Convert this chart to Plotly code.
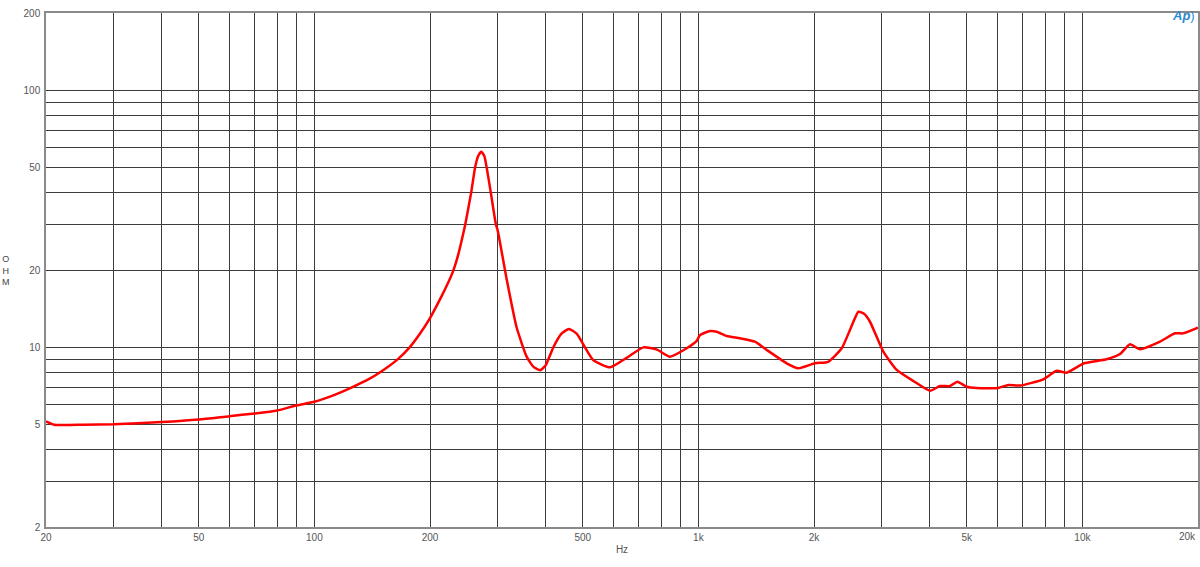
import plotly.graph_objects as go

# Impedance curve data (Hz, Ohm)
freq = [20, 21, 25, 30, 40, 50, 60, 70, 80, 90, 100, 112, 124, 137, 151, 165, 177, 189,
        200, 212, 222, 230, 237, 242, 247, 256, 262, 267, 272, 277, 281, 288, 297, 300,
        317, 336, 357, 372, 387, 400, 419, 440, 460, 482, 532, 589, 650, 719, 780, 843,
        932, 990, 1010, 1072, 1116, 1185, 1283, 1404, 1506, 1698, 1820, 2012, 2178, 2362,
        2500, 2610, 2700, 2798, 3031, 3285, 3627, 4010, 4258, 4522, 4724, 4998, 5306,
        6040, 6412, 6880, 7910, 8570, 9100, 10098, 11566, 12528, 13304, 14126, 15925,
        17420, 18312, 20000]
ohm = [5.15, 5.0, 5.0, 5.02, 5.12, 5.24, 5.4, 5.53, 5.68, 5.95, 6.14, 6.5, 6.94, 7.45,
       8.15, 9.0, 10.0, 11.4, 13.0, 15.3, 17.6, 19.9, 23.0, 26.2, 30.0, 40.0, 50.0, 55.5,
       57.7, 55.5, 50.0, 40.0, 30.0, 28.6, 18.3, 12.0, 9.2, 8.4, 8.15, 8.5, 10.0, 11.3,
       11.8, 11.3, 8.93, 8.36, 9.1, 10.0, 9.8, 9.2, 9.92, 10.6, 11.17, 11.58, 11.5, 11.07,
       10.85, 10.52, 9.77, 8.67, 8.29, 8.67, 8.79, 9.92, 12.0, 13.76, 13.5, 12.58, 9.62,
       8.17, 7.4, 6.78, 7.07, 7.07, 7.35, 7.03, 6.95, 6.95, 7.14, 7.1, 7.51, 8.11, 7.97,
       8.67, 8.99, 9.42, 10.28, 9.83, 10.52, 11.34, 11.34, 11.93]

x_grid = [20, 30, 40, 50, 60, 70, 80, 90, 100, 200, 300, 400, 500, 600, 700, 800, 900,
          1000, 2000, 3000, 4000, 5000, 6000, 7000, 8000, 9000, 10000, 20000]
x_labels = {20: "20", 50: "50", 100: "100", 200: "200", 500: "500", 1000: "1k",
            2000: "2k", 5000: "5k", 10000: "10k"}
x_last_label = "20k"
y_grid = [2, 3, 4, 5, 6, 7, 8, 9, 10, 20, 30, 40, 50, 60, 70, 80, 90, 100, 200]
y_labels = {2: "2", 5: "5", 10: "10", 20: "20", 50: "50", 100: "100", 200: "200"}

fig = go.Figure()
fig.add_trace(go.Scatter(x=freq, y=ohm, mode="lines",
                         line=dict(color="#ff0000", width=2.5, shape="spline", smoothing=0.5),
                         hoverinfo="x+y", showlegend=False))

font_family = "Liberation Sans, Arial, sans-serif"
tickfont = dict(family=font_family, size=10, color="#555555")
fig.update_layout(
    width=1200, height=567,
    margin=dict(l=46, r=2, t=13, b=40),
    paper_bgcolor="white", plot_bgcolor="white",
    xaxis=dict(type="log", range=[1.30103, 4.30103], automargin=False,
               tickvals=x_grid, ticktext=[x_labels.get(v, "") for v in x_grid],
               showgrid=True, gridcolor="#3c3c3c", gridwidth=1,
               zeroline=False, showline=True, linecolor="#8a8a8a", linewidth=1.5, mirror=True,
               ticks="", tickfont=tickfont,
               title=dict(text="Hz", font=tickfont, standoff=4)),
    yaxis=dict(type="log", range=[0.30103, 2.30103], automargin=False,
               tickvals=y_grid, ticktext=[y_labels.get(v, "") for v in y_grid],
               showgrid=True, gridcolor="#3c3c3c", gridwidth=1,
               zeroline=False, showline=True, linecolor="#8a8a8a", linewidth=1.5, mirror=True,
               ticks="", tickfont=tickfont, ticklabelstandoff=2),
    annotations=[
        dict(text="O<br>H<br>M", xref="paper", yref="paper", x=-0.035, y=0.5,
             xanchor="center", yanchor="middle", showarrow=False,
             font=dict(family=font_family, size=9, color="#444444")),
        dict(text=x_last_label, xref="paper", yref="paper", x=1.0, y=0, yshift=-2,
             xanchor="right", yanchor="top", showarrow=False, font=tickfont),
        dict(text="<i><b>Ap</b></i>)", xref="paper", yref="paper", x=0.999, y=0.995,
             xanchor="right", yanchor="middle", showarrow=False,
             font=dict(family=font_family, size=13, color="#2a8ad0")),
    ],
)

fig.write_html("out.html", config={"displayModeBar": False},
               post_script="document.body.style.margin='0';document.body.style.overflow='hidden';")
